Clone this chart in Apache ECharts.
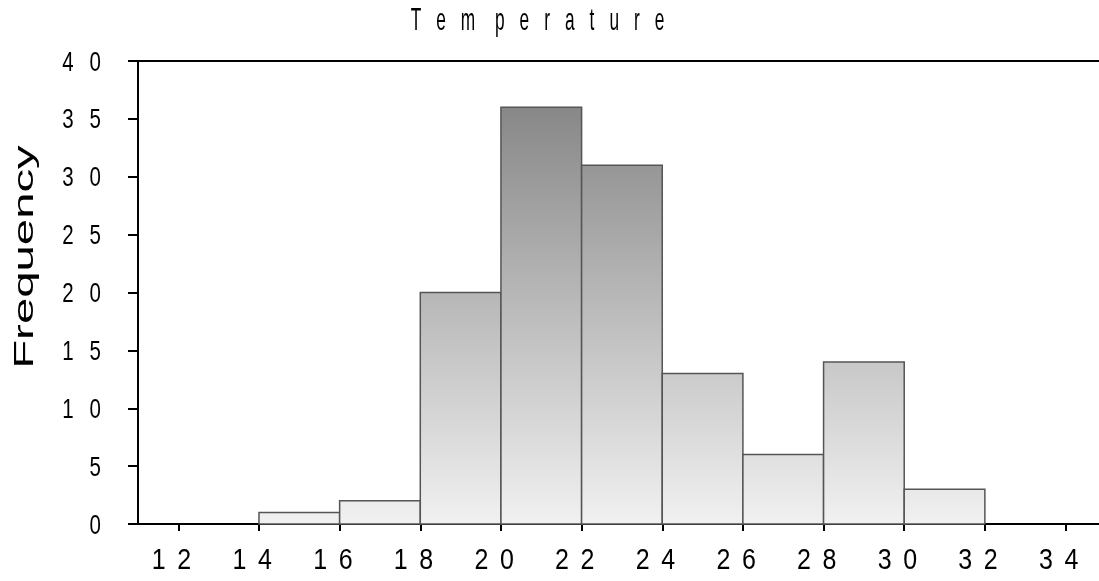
<!DOCTYPE html>
<html>
<head>
<meta charset="utf-8">
<script src="https://cdn.jsdelivr.net/npm/echarts@6/dist/echarts.min.js"></script>
<style>
  html, body { margin: 0; padding: 0; background: #fff; }
  #chart { width: 1099px; height: 581px; }
</style>
</head>
<body>
<div id="chart"></div>
<script>
// Histogram of temperature readings: bins of width 2
const binStarts = [14, 16, 18, 20, 22, 24, 26, 28, 30];
const binWidth = 2;
const counts = [1, 2, 20, 36, 31, 13, 6, 14, 3];
const xTicks = [12, 14, 16, 18, 20, 22, 24, 26, 28, 30, 32, 34];
const yTicks = [0, 5, 10, 15, 20, 25, 30, 35, 40];
const titleText = 'Tem perature';
const yName = 'Frequency';

const X_MIN = 11, X_MAX = 34.83, Y_MIN = 0, Y_MAX = 40;
const FONT = "'Liberation Sans', Arial, sans-serif";

// tall, widely spaced digits: one stretched text element per digit
function digitTexts(v, anchorX, anchorY, opt) {
  const ds = String(v).split('');
  const n = ds.length;
  return ds.map((d, i) => ({
    type: 'text',
    silent: true,
    x: anchorX - (n - 1 - i) * opt.pitch,
    y: anchorY,
    scaleY: opt.scaleY,
    style: {
      text: d,
      fontFamily: FONT,
      fontSize: opt.size,
      fill: '#000',
      align: opt.align,
      verticalAlign: 'middle'
    }
  }));
}

const chart = echarts.init(document.getElementById('chart'));
const bins = binStarts.map((s, i) => [s, s + binWidth, counts[i]]);
const axisLineStyle = { color: '#000', width: 2 };

chart.setOption({
  animation: false,
  backgroundColor: '#fff',
  grid: { left: 138, right: 0, top: 61, bottom: 57 },
  xAxis: [{
    type: 'value', min: X_MIN, max: X_MAX, position: 'bottom',
    splitLine: { show: false },
    axisLine: { show: true, lineStyle: axisLineStyle },
    axisTick: { show: true, length: 7, inside: false, customValues: xTicks, lineStyle: axisLineStyle },
    axisLabel: { show: false }
  }, {
    type: 'value', min: X_MIN, max: X_MAX, position: 'top',
    splitLine: { show: false },
    axisLine: { show: true, lineStyle: axisLineStyle },
    axisTick: { show: false }, axisLabel: { show: false }
  }],
  yAxis: {
    type: 'value', min: Y_MIN, max: Y_MAX, interval: 5,
    splitLine: { show: false },
    axisLine: { show: true, lineStyle: axisLineStyle },
    axisTick: { show: true, length: 10, inside: false, lineStyle: axisLineStyle },
    axisLabel: { show: false }
  },
  series: [{
    type: 'custom',
    data: bins,
    encode: { x: [0, 1], y: 2 },
    renderItem: function (params, api) {
      const p0 = api.coord([api.value(0), api.value(2)]);
      const p1 = api.coord([api.value(1), 0]);
      const yTop = api.coord([X_MIN, Y_MAX])[1];
      const yBot = api.coord([X_MIN, Y_MIN])[1];
      return {
        type: 'rect',
        shape: { x: p0[0], y: p0[1], width: p1[0] - p0[0], height: p1[1] - p0[1] },
        style: {
          fill: new echarts.graphic.LinearGradient(0, yTop, 0, yBot, [
            { offset: 0, color: '#7c7c7c' },
            { offset: 1, color: '#f1f1f1' }
          ], true),
          stroke: '#555555',
          lineWidth: 1.5
        }
      };
    }
  }]
});

// tick labels placed from the axis scales, plus title and axis name
const labelEls = [];
xTicks.forEach(v => {
  const p = chart.convertToPixel({ gridIndex: 0 }, [v, Y_MIN]);
  labelEls.push(...digitTexts(v, p[0] - 1, p[1] + 37, { pitch: 25.5, size: 25, scaleY: 1.18, align: 'left' }));
});
yTicks.forEach(v => {
  const p = chart.convertToPixel({ gridIndex: 0 }, [X_MIN, v]);
  labelEls.push(...digitTexts(v, p[0] - 37, p[1] + 2, { pitch: 27.3, size: 20.5, scaleY: 1.33, align: 'right' }));
});

chart.setOption({
  graphic: [{
    type: 'text',
    x: 545,
    y: 21,
    scaleY: 1.85,
    style: {
      text: titleText.split('').map(c => c === ' ' ? '{s| }' : '{c|' + c + '}').join(''),
      align: 'center',
      verticalAlign: 'middle',
      rich: {
        c: { fontFamily: FONT, fontSize: 17.3, fill: '#000', padding: [0, 15, 0, 0] },
        s: { fontFamily: FONT, fontSize: 17.3, fill: '#000' }
      }
    }
  }, {
    type: 'text',
    x: 25,
    y: 257,
    rotation: Math.PI / 2,
    scaleX: 1.69,
    style: {
      text: yName,
      align: 'center',
      verticalAlign: 'middle',
      fontFamily: FONT,
      fontSize: 28,
      fill: '#000'
    }
  }].concat(labelEls)
});
</script>
</body>
</html>
